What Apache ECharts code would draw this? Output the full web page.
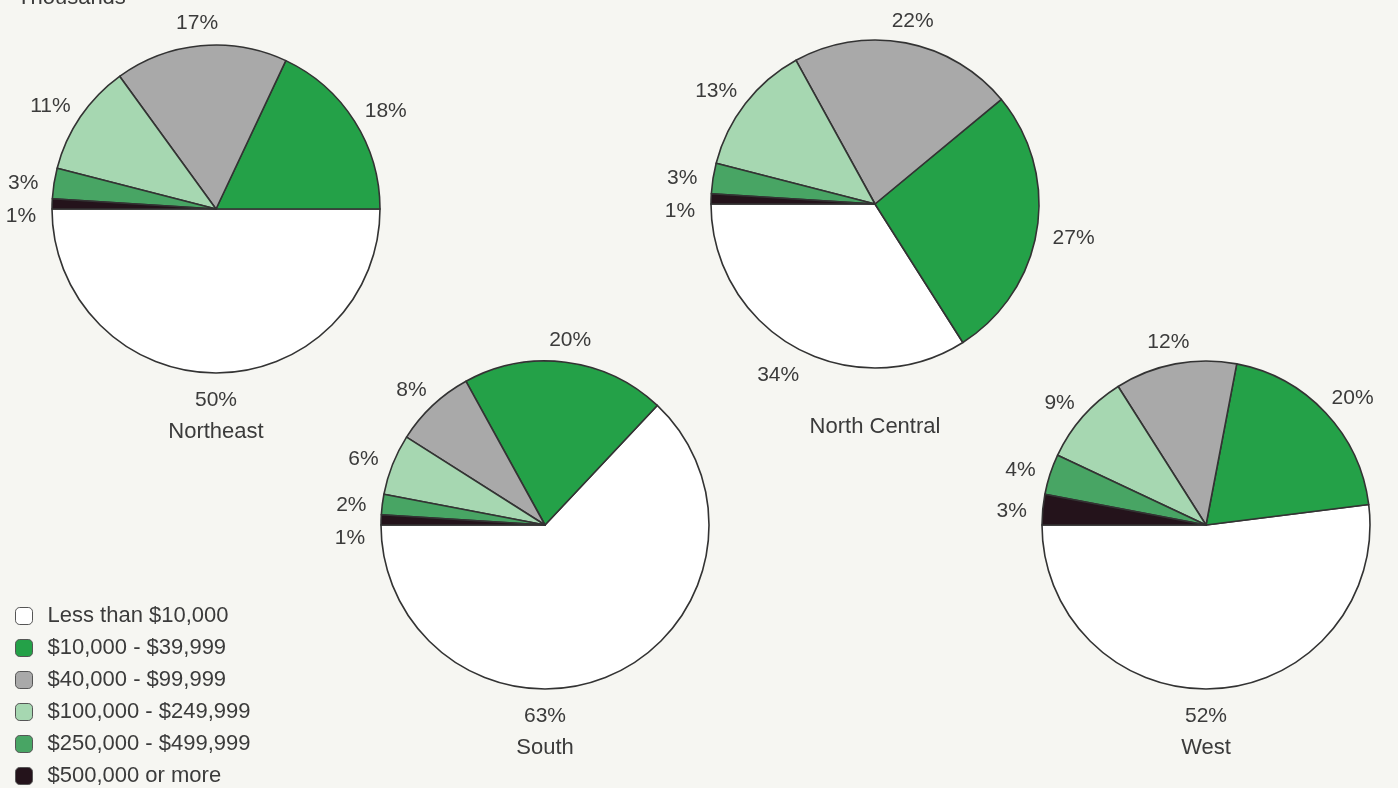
<!DOCTYPE html>
<html>
<head>
<meta charset="utf-8">
<script src="https://cdn.jsdelivr.net/npm/echarts@6/dist/echarts.min.js"></script>
<style>
  html, body { margin: 0; padding: 0; background: #f6f6f2; }
  #chart { width: 1398px; height: 788px; }
</style>
</head>
<body>
<div id="chart"></div>
<script>
// Income brackets (slice order, counter-clockwise from 9 o'clock)
const brackets = [
  'Less than $10,000',
  '$10,000 - $39,999',
  '$40,000 - $99,999',
  '$100,000 - $249,999',
  '$250,000 - $499,999',
  '$500,000 or more'
];
const regions = ['Northeast', 'North Central', 'South', 'West'];

// Percent of each region's total in each bracket
const northeast    = [50, 18, 17, 11, 3, 1];
const northCentral = [34, 27, 22, 13, 3, 1];
const south        = [63, 20, 8, 6, 2, 1];
const west         = [52, 20, 12, 9, 4, 3];
const shares = [northeast, northCentral, south, west];

const unitLabel = 'Thousands';

// ---- presentation ----
const FONT = '"Liberation Sans", Arial, Helvetica, sans-serif';
const TEXT = '#3b3b3b';
const LABEL_SIZE = 21;
const sliceColors = ['#ffffff', '#24a148', '#a9a9a9', '#a6d7b1', '#48a564', '#24131b'];
const centers = [[216, 209], [875, 204], [545, 525], [1206, 525]];
const R = 164;
const LABEL_GAP = 16;        // gap between the rim and the nearest edge of a value label
const LABEL_NUDGE = 4;       // small downward shift of every value label
const MIN_SEP = 33;          // minimum vertical distance between labels on one side
const START_ANGLE = 180;     // degrees, slices run counter-clockwise from here
// pies whose first-slice value sits centred beneath the disc
const valueBelow = [true, false, true, true];

const measure = document.createElement('canvas').getContext('2d');
measure.font = LABEL_SIZE + 'px ' + FONT;

// label centres for one pie: on each slice's bisector just outside the rim,
// then spread apart vertically where neighbours would collide
function labelCentres(vals, i) {
  const total = vals.reduce((a, b) => a + b, 0);
  const [cx, cy] = centers[i];
  let acc = 0;
  const pts = vals.map((v, j) => {
    const a = (START_ANGLE + 360 * (acc + v / 2) / total) * Math.PI / 180;
    acc += v;
    const ux = Math.cos(a), uy = -Math.sin(a);
    const w = measure.measureText(v + '%').width, h = LABEL_SIZE;
    return {
      j: j,
      side: ux < 0 ? 'L' : 'R',
      x: cx + ux * (R + LABEL_GAP) + ux * w / 2,
      y: cy + uy * (R + LABEL_GAP) + uy * h / 2 + LABEL_NUDGE
    };
  });
  ['L', 'R'].forEach(side => {
    const list = pts
      .filter(p => p.side === side && !(valueBelow[i] && p.j === 0))
      .sort((a, b) => a.y - b.y);
    for (let k = 1; k < list.length; k++) {
      if (list[k].y - list[k - 1].y < MIN_SEP) list[k].y = list[k - 1].y + MIN_SEP;
    }
  });
  return pts;
}

const chart = echarts.init(document.getElementById('chart'), null, { renderer: 'canvas' });

const series = shares.map((vals, i) => {
  const pos = labelCentres(vals, i);
  return {
    type: 'pie',
    name: regions[i],
    center: centers[i],
    radius: R,
    startAngle: START_ANGLE,
    clockwise: false,
    silent: true,
    animation: false,
    label: {
      position: 'outside',
      formatter: '{c}%',
      fontSize: LABEL_SIZE,
      fontFamily: FONT,
      color: TEXT,
      overflow: 'none'
    },
    labelLine: { show: false, length: 12, length2: 0 },
    itemStyle: { borderColor: '#333333', borderWidth: 1.6 },
    labelLayout: function (p) {
      if (valueBelow[i] && p.dataIndex === 0) {
        return {
          x: p.rect.x + p.rect.width / 2,
          y: p.rect.y + p.rect.height + LABEL_GAP + p.labelRect.height / 2,
          align: 'center',
          verticalAlign: 'middle'
        };
      }
      const q = pos[p.dataIndex];
      return { x: q.x, y: q.y, align: 'center', verticalAlign: 'middle' };
    },
    data: vals.map((v, j) => ({
      name: brackets[j],
      value: v,
      itemStyle: { color: sliceColors[j] }
    }))
  };
});

// Region names under each pie
const regionText = regions.map((r, i) => ({
  type: 'text',
  x: centers[i][0],
  y: centers[i][1] + R + 59,
  silent: true,
  style: {
    text: r,
    align: 'center',
    verticalAlign: 'middle',
    fontSize: 22,
    fontFamily: FONT,
    fill: TEXT
  }
}));

chart.setOption({
  backgroundColor: '#f6f6f2',
  animation: false,
  legend: {
    orient: 'vertical',
    left: 15,
    top: 605,
    height: 240,
    padding: 0,
    data: brackets,
    icon: 'roundRect',
    itemWidth: 17,
    itemHeight: 17,
    itemGap: 10,
    selectedMode: false,
    itemStyle: { borderColor: '#555', borderWidth: 1 },
    textStyle: { fontSize: 22, fontFamily: FONT, color: TEXT, padding: [0, 0, 0, 10] }
  },
  graphic: [
    {
      type: 'text',
      x: 17,
      y: 9,
      silent: true,
      style: {
        text: unitLabel,
        align: 'left',
        verticalAlign: 'bottom',
        fontSize: 22,
        fontFamily: FONT,
        fill: TEXT
      }
    }
  ].concat(regionText),
  series: series
});
</script>
</body>
</html>
